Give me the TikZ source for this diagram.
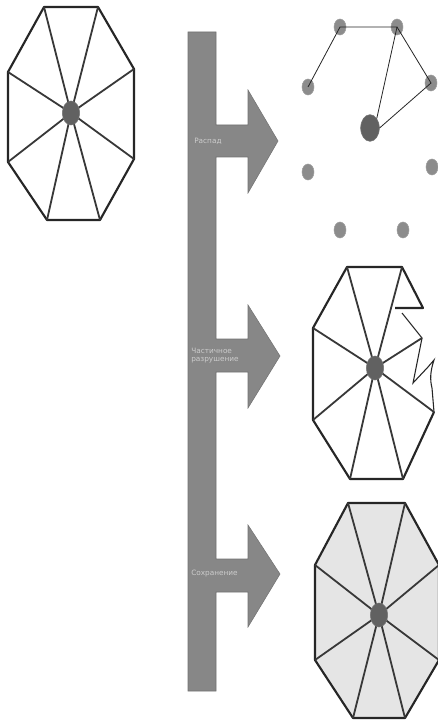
\documentclass[tikz,border=0pt]{standalone}
\usepackage{fontspec}
\newfontfamily\lblfont{DejaVu Sans}
\usetikzlibrary{shapes.geometric}
\begin{document}
\begin{tikzpicture}[x=0.75pt,y=-0.75pt,
  edge/.style={draw=black!85,line width=1.6pt,line join=round},
  spoke/.style={draw=black!78,line width=1.35pt},
  thin/.style={draw=black!85,line width=0.6pt},
  nucl/.style={ellipse,fill=black!62,draw=black!55,minimum width=13pt,minimum height=18pt,inner sep=0pt},
  bignucl/.style={ellipse,fill=black!62,draw=black!55,minimum width=14pt,minimum height=20pt,inner sep=0pt},
  frag/.style={ellipse,fill=black!45,draw=black!38,minimum width=9pt,minimum height=12pt,inner sep=0pt},
  barfill/.style={fill=black!47,draw=black!55,line width=0.4pt},
  lbl/.style={font=\lblfont\fontsize{5.5}{6}\selectfont,text=white!80!black,align=left,inner sep=0pt,anchor=west}
]
\useasboundingbox (0,0) rectangle (438,723);
\fill[white] (0,0) rectangle (438,723);

% ---------- left cell ----------
\coordinate (a1) at (44,7);  \coordinate (a2) at (98,7);
\coordinate (a3) at (134,69); \coordinate (a4) at (134,159);
\coordinate (a5) at (100,220); \coordinate (a6) at (47,220);
\coordinate (a7) at (8,162);  \coordinate (a8) at (8,72);
\draw[edge] (a1)--(a2)--(a3)--(a4)--(a5)--(a6)--(a7)--(a8)--cycle;
\coordinate (ac) at (71,113);
\foreach \v in {a1,a2,a3,a4,a5,a6,a7,a8} \draw[spoke] (ac)--(\v);
\node[nucl] (an) at (ac) {};

% ---------- bar and arrows ----------
\path[barfill] (188,32) -- (216,32) -- (216,125) -- (248,125) -- (248,90) -- (278,141)
  -- (248,193) -- (248,157) -- (216,157) -- (216,339) -- (248,339) -- (248,305)
  -- (280,356) -- (248,408) -- (248,372) -- (216,372) -- (216,559) -- (248,559)
  -- (248,525) -- (280,574) -- (248,627) -- (248,592) -- (216,592) -- (216,691)
  -- (188,691) -- cycle;
\node[lbl] (t1) at (194,141) {Распад};
\node[lbl] (t2) at (191,356) {Частичное\\разрушение};
\node[lbl] (t3) at (191,574) {Сохранение};

% ---------- fragments ----------
\node[frag] (d1) at (340,27) {};
\node[frag] (d2) at (397,27) {};
\node[frag] (d3) at (308,87) {};
\node[frag] (d4) at (431,83) {};
\node[bignucl] (dn) at (370,128) {};
\node[frag] (d5) at (308,172) {};
\node[frag] (d6) at (432,167) {};
\node[frag] (d7) at (340,230) {};
\node[frag] (d8) at (403,230) {};
\draw[thin] (d3.center)--(d1.center)--(d2.center)--(dn.north east);
\draw[thin] (d2.center)--(d4.center)--(dn.east);

% ---------- damaged cell ----------
\coordinate (b1) at (347,267); \coordinate (b2) at (402,267);
\coordinate (b3) at (423,308); \coordinate (b3b) at (395,308);
\coordinate (b7) at (313,420); \coordinate (b8) at (313,328);
\coordinate (b6) at (350,479); \coordinate (b5) at (403,479);
\coordinate (b4) at (434,412); \coordinate (bu) at (422,338);
\draw[edge] (b3b)--(b3)--(b2)--(b1)--(b8)--(b7)--(b6)--(b5)--(b4);
\draw[thin,line width=0.8pt] (402,313)--(bu)--(413,383)--(428,367)--(434,360)
   .. controls (430,372) and (430,380) .. (432,388)--(b4);
\coordinate (bc) at (375,368);
\foreach \v in {b1,b2,bu,b4,b5,b6,b7,b8} \draw[spoke] (bc)--(\v);
\node[nucl] (bn) at (bc) {};

% ---------- intact shaded cell ----------
\coordinate (c1) at (348,503); \coordinate (c2) at (405,503);
\coordinate (c3) at (439,565); \coordinate (c4) at (439,660);
\coordinate (c5) at (405,718); \coordinate (c6) at (353,718);
\coordinate (c7) at (315,660); \coordinate (c8) at (315,565);
\draw[edge,fill=black!10] (c1)--(c2)--(c3)--(c4)--(c5)--(c6)--(c7)--(c8)--cycle;
\coordinate (cc) at (379,615);
\foreach \v in {c1,c2,c3,c4,c5,c6,c7,c8} \draw[spoke] (cc)--(\v);
\node[nucl] (cn) at (cc) {};
\end{tikzpicture}
\end{document}
